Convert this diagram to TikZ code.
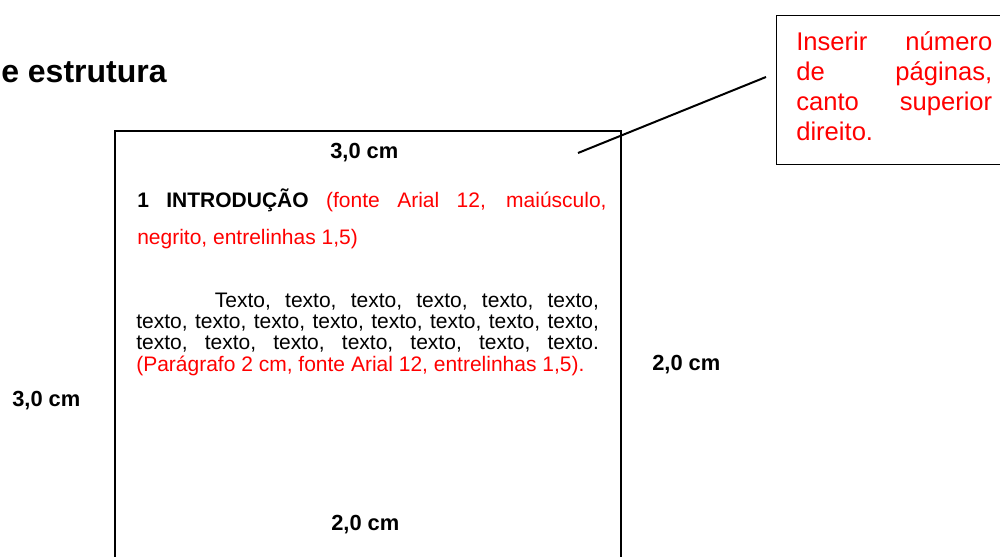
\documentclass[tikz,border=0pt]{standalone}
\usepackage{fontspec}
\setmainfont{Liberation Sans}
\definecolor{notered}{RGB}{255,0,0}
\begin{document}
\begin{tikzpicture}[x=0.75pt,y=-0.75pt,
  framestyle/.style={draw=black,line width=1.5pt},
  boxstyle/.style={draw=black,line width=1.1pt,inner sep=0pt},
  lbl/.style={inner sep=0pt,anchor=base west,font=\fontsize{16.4}{19}\selectfont\bfseries},
  para/.style={inner sep=0pt,anchor=base west,align=justify},
  leader/.style={draw=black,line width=1.5pt}]
\useasboundingbox (0,0) rectangle (1000,557);
% title fragment
\node[inner sep=0pt,anchor=base west,font=\fontsize{24}{28}\selectfont\bfseries] (title) at (1,82) {e estrutura};
% page frame (bottom runs off the picture)
\path[framestyle] (115,600) -- (115,131) -- (621,131) -- (621,600);
% margin labels
\node[lbl] (top) at (330,158) {3,0 cm};
\node[lbl] (right) at (652,370) {2,0 cm};
\node[lbl] (left) at (12,406) {3,0 cm};
\node[lbl] (bottom) at (331,530) {2,0 cm};
% heading paragraph
\node[para,text width=352pt,font=\fontsize{15.75}{27.75}\selectfont] (head) at (137,207)
  {\textbf{1 INTRODUÇÃO} \textcolor{notered}{(fonte Arial 12, maiúsculo,\linebreak negrito, entrelinhas 1,5)}};
% body paragraph
\node[para,text width=347pt,font=\fontsize{15.75}{16}\selectfont] (body) at (136,307)
  {\hspace*{59pt}Texto, texto, texto, texto, texto, texto,\linebreak
   texto, texto, texto, texto, texto, texto, texto, texto,\linebreak
   texto, texto, texto, texto, texto, texto, texto.\linebreak
   \textcolor{notered}{(Parágrafo 2 cm, fonte Arial 12, entrelinhas 1,5).}};
% callout box
\node[boxstyle,anchor=north west,minimum width=180pt,minimum height=111.75pt] (callout) at (776,15) {};
\node[para,text width=147pt,text=notered,font=\fontsize{19.2}{22.5}\selectfont] (ctext) at (796,50)
  {Inserir número\linebreak de páginas,\linebreak canto superior\linebreak direito.};
% leader line
\coordinate (pn) at (578,153);
\coordinate (ce) at (766,77);
\draw[leader] (pn) -- (ce);
\end{tikzpicture}
\end{document}
